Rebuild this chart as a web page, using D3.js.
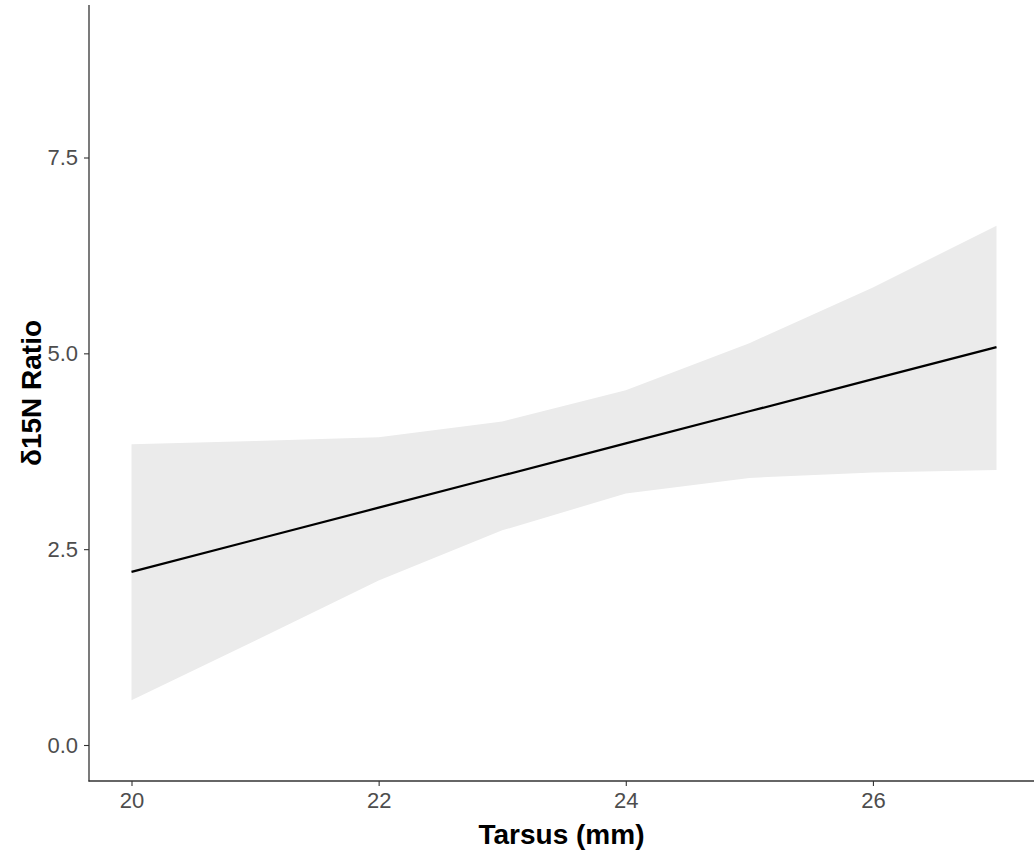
<!DOCTYPE html>
<html>
<head>
<meta charset="utf-8">
<script src="https://cdn.jsdelivr.net/npm/d3@7"></script>
<style>
  html, body { margin: 0; padding: 0; background: #fff; }
  svg { display: block; }
  text { font-family: "Liberation Sans", Arial, sans-serif; }
</style>
</head>
<body>
<svg id="chart" width="1034" height="855"></svg>
<script>
// Tarsus length (mm) at which the fitted model is evaluated
const tarsus = [20, 21, 22, 23, 24, 25, 26, 27];
// Fitted δ15N ratio
const fitted = [2.21, 2.62, 3.03, 3.44, 3.85, 4.26, 4.67, 5.08];
// Confidence band bounds
const lower = [0.57, 1.33, 2.10, 2.74, 3.21, 3.41, 3.48, 3.51];
const upper = [3.84, 3.88, 3.93, 4.13, 4.53, 5.13, 5.84, 6.63];

const xTicks = [20, 22, 24, 26];
const yTicks = [0, 2.5, 5, 7.5];

const rows = tarsus.map((t, i) => ({ t, fit: fitted[i], lo: lower[i], hi: upper[i] }));

const svg = d3.select("#chart");
const panel = { left: 89, right: 1034, top: 5, bottom: 781 };

const x = d3.scaleLinear().domain([20, 27]).range([131.5, 996.5]);
const y = d3.scaleLinear().domain([0, 7.5]).range([745, 157.5]);

// Confidence ribbon
svg.append("path")
  .datum(rows)
  .attr("fill", "#ebebeb")
  .attr("d", d3.area()
    .x(d => x(d.t))
    .y0(d => y(d.lo))
    .y1(d => y(d.hi)));

// Fitted line
svg.append("path")
  .datum(rows)
  .attr("fill", "none")
  .attr("stroke", "#000")
  .attr("stroke-width", 2.2)
  .attr("d", d3.line().x(d => x(d.t)).y(d => y(d.fit)));

// Axes
const xAxis = svg.append("g")
  .attr("transform", `translate(0,${panel.bottom})`)
  .call(d3.axisBottom(x).tickValues(xTicks).tickSize(5).tickPadding(6).tickFormat(d3.format("d")));
const yAxis = svg.append("g")
  .attr("transform", `translate(${panel.left},0)`)
  .call(d3.axisLeft(y).tickValues(yTicks).tickSize(5).tickPadding(6).tickFormat(d3.format(".1f")));

[xAxis, yAxis].forEach(g => {
  g.select(".domain").remove();
  g.selectAll(".tick line").attr("stroke", "#333").attr("stroke-width", 1.1);
  g.selectAll(".tick text")
    .attr("fill", "#4d4d4d")
    .style("font-size", "22px")
    .style("font-family", "'Liberation Sans', Arial, sans-serif");
});

// Axis lines
svg.append("line")
  .attr("x1", panel.left).attr("x2", panel.left)
  .attr("y1", panel.top).attr("y2", panel.bottom + 0.5)
  .attr("stroke", "#333").attr("stroke-width", 1.3);
svg.append("line")
  .attr("x1", panel.left - 0.5).attr("x2", panel.right)
  .attr("y1", panel.bottom).attr("y2", panel.bottom)
  .attr("stroke", "#333").attr("stroke-width", 1.3);

// Axis titles
svg.append("text")
  .attr("x", (panel.left + panel.right) / 2)
  .attr("y", 844)
  .attr("text-anchor", "middle")
  .style("font-size", "28px")
  .style("font-weight", "bold")
  .attr("fill", "#000")
  .text("Tarsus (mm)");

svg.append("text")
  .attr("transform", `translate(41,${(panel.top + panel.bottom) / 2}) rotate(-90)`)
  .attr("text-anchor", "middle")
  .style("font-size", "28px")
  .style("font-weight", "bold")
  .attr("fill", "#000")
  .text("δ15N Ratio");
</script>
</body>
</html>
